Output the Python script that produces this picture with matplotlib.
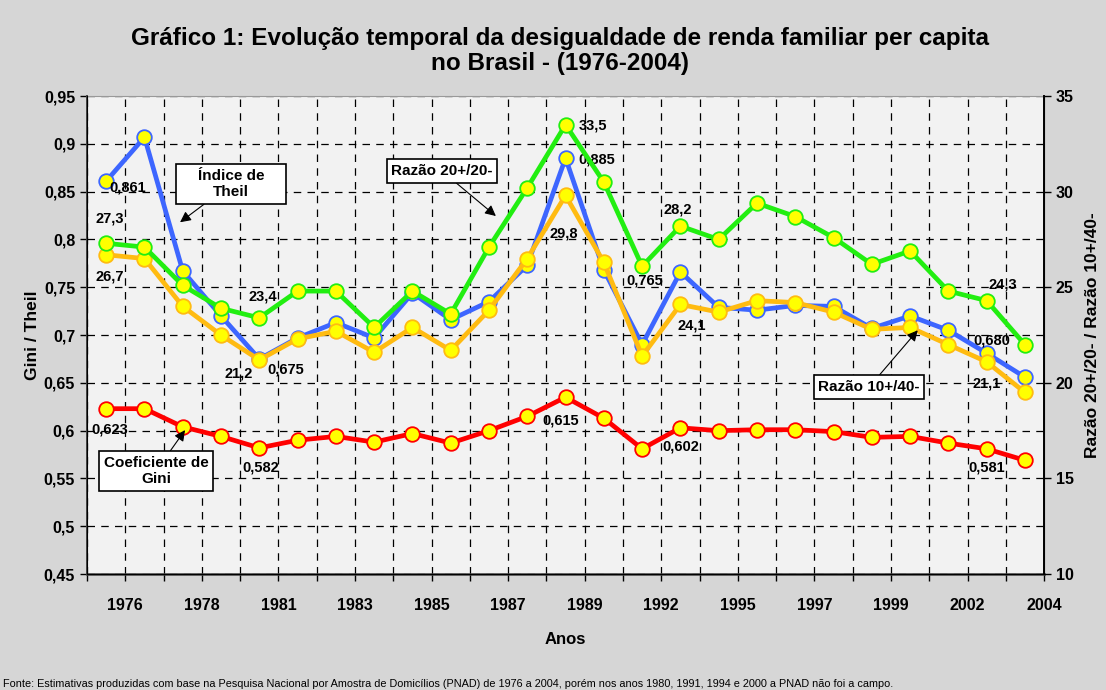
import numpy as np
import matplotlib.pyplot as plt
from matplotlib.ticker import FuncFormatter, MultipleLocator

plt.rcParams['font.family'] = ['Liberation Sans', 'DejaVu Sans']

# categories (years with PNAD survey)
anos = [1976, 1977, 1978, 1979, 1981, 1982, 1983, 1984, 1985, 1986, 1987, 1988,
        1989, 1990, 1992, 1993, 1995, 1996, 1997, 1998, 1999, 2001, 2002, 2003, 2004]

# left axis series
gini = [0.623, 0.623, 0.604, 0.594, 0.582, 0.590, 0.594, 0.588, 0.597, 0.587,
        0.600, 0.615, 0.635, 0.613, 0.581, 0.603, 0.600, 0.601, 0.601, 0.599,
        0.593, 0.594, 0.587, 0.581, 0.569]
theil = [0.861, 0.907, 0.767, 0.720, 0.675, 0.697, 0.713, 0.697, 0.744, 0.716,
         0.735, 0.773, 0.885, 0.768, 0.690, 0.766, 0.729, 0.726, 0.731, 0.730,
         0.707, 0.720, 0.705, 0.681, 0.656]

# right axis series
razao_20_20 = [27.3, 27.1, 25.1, 23.9, 23.4, 24.8, 24.8, 22.9, 24.8, 23.6,
               27.1, 30.2, 33.5, 30.5, 26.1, 28.2, 27.5, 29.4, 28.7, 27.6,
               26.2, 26.9, 24.8, 24.3, 22.0]
razao_10_40 = [26.7, 26.5, 24.0, 22.5, 21.2, 22.3, 22.7, 21.6, 22.9, 21.7,
               23.8, 26.5, 29.8, 26.3, 21.4, 24.1, 23.7, 24.3, 24.2, 23.7,
               22.8, 22.9, 22.0, 21.1, 19.5]

fonte = ("Fonte: Estimativas produzidas com base na Pesquisa Nacional por Amostra de "
         "Domicílios (PNAD) de 1976 a 2004, porém nos anos 1980, 1991, 1994 e 2000 a "
         "PNAD não foi a campo.")

x = np.arange(len(anos)) + 0.5

fig = plt.figure(figsize=(11.06, 6.9), dpi=100)
fig.patch.set_facecolor('#d6d6d6')
ax = fig.add_axes([0.0787, 0.168, 0.8653, 0.6928])
ax.set_facecolor('#f2f2f2')
ax2 = ax.twinx()

def draw(a, vals, color, z):
    a.plot(x, vals, color=color, lw=3.4, marker='o', ms=10.5,
           mfc='#ffff00', mec=color, mew=1.3, zorder=z, clip_on=False)

draw(ax, gini, '#ff0000', 3)
draw(ax, theil, '#3d66ff', 3)
draw(ax2, razao_10_40, '#ffbb11', 3)
draw(ax2, razao_20_20, '#22ee11', 4)

ax.set_xlim(0, len(anos))
ax.set_ylim(0.45, 0.95)
ax2.set_ylim(10, 35)

ax.yaxis.set_major_locator(MultipleLocator(0.05))
ax.yaxis.set_major_formatter(FuncFormatter(
    lambda v, p: (f"{v:.2f}".rstrip('0').rstrip('.')).replace('.', ',')))
ax2.yaxis.set_major_locator(MultipleLocator(5))

# x: gridlines at every category boundary, labels every other boundary
ax.set_xticks(np.arange(0, len(anos) + 1))
ax.set_xticklabels([''] + [str(a) if i % 2 == 0 else '' for i, a in enumerate(anos)])

ax.grid(True, color='black', ls=(0, (6, 5)), lw=0.9)
ax.set_axisbelow(True)

for a in (ax, ax2):
    a.tick_params(labelsize=11.5, width=1, length=5, direction='out')
    for lab in a.get_yticklabels() + a.get_xticklabels():
        lab.set_fontweight('bold')
ax.tick_params(axis='x', pad=12)
ax.spines['left'].set_color('#444444')
ax.spines['bottom'].set_color('#444444')
ax.spines['bottom'].set_linewidth(1.8)
ax.spines['left'].set_linewidth(1.4)
ax.spines['top'].set_color('#999999')
ax2.spines['right'].set_linewidth(1.4)
ax2.spines['top'].set_visible(False)

ax.set_ylabel('Gini / Theil', fontsize=12.5, fontweight='bold', labelpad=3)
ax2.set_ylabel('Razão 20+/20- / Razão 10+/40-', fontsize=12.5, fontweight='bold',
               labelpad=8)
ax.set_xlabel('Anos', fontsize=12, fontweight='bold', labelpad=14)

fig.text(0.506, 0.926, 'Gráfico 1: Evolução temporal da desigualdade de renda familiar per capita\n'
         'no Brasil - (1976-2004)', ha='center', va='center', fontsize=17.5,
         fontweight='bold', linespacing=1.12)
fig.text(0.003, 0.002, fonte, fontsize=7.8, ha='left', va='bottom')

# data labels: (series axis, values, index, text, offset in pixels)
labels = [
    (ax, theil, 0, '0,861', (22, -6)),
    (ax2, razao_20_20, 0, '27,3', (4, 25)),
    (ax2, razao_10_40, 0, '26,7', (4, -22)),
    (ax2, razao_20_20, 4, '23,4', (4, 21)),
    (ax2, razao_10_40, 4, '21,2', (-21, -14)),
    (ax, theil, 4, '0,675', (26, -11)),
    (ax, gini, 0, '0,623', (4, -21)),
    (ax, gini, 4, '0,582', (1, -20)),
    (ax2, razao_20_20, 12, '33,5', (27, -1)),
    (ax, theil, 12, '0,885', (31, -1)),
    (ax2, razao_10_40, 12, '29,8', (-2, -38)),
    (ax2, razao_20_20, 15, '28,2', (-3, 17)),
    (ax, theil, 13, '0,765', (41, -10)),
    (ax2, razao_10_40, 15, '24,1', (11, -21)),
    (ax, gini, 11, '0,615', (33, -4)),
    (ax, gini, 15, '0,602', (0, -19)),
    (ax2, razao_20_20, 23, '24,3', (16, 16)),
    (ax, theil, 23, '0,680', (5, 13)),
    (ax2, razao_10_40, 23, '21,1', (0, -22)),
    (ax, gini, 23, '0,581', (0, -19)),
]
for a, vals, i, txt, off in labels:
    a.annotate(txt, xy=(x[i], vals[i]), xytext=off, textcoords='offset pixels',
               ha='center', va='center', fontsize=10.5, fontweight='bold', zorder=6)

# callouts (positions in left-axis data coordinates)
box = dict(boxstyle='square,pad=0.3', fc='white', ec='black', lw=1.2)
arrow = dict(arrowstyle='-|>', color='black', lw=0.8, mutation_scale=16, shrinkA=0, shrinkB=0)
callouts = [
    ('    Índice de    \nTheil', (2.43, 0.818), (3.76, 0.858)),
    ('Razão 20+/20-', (10.68, 0.8245), (9.27, 0.8716)),
    ('Coeficiente de\nGini', (2.56, 0.6006), (1.80, 0.5577)),
    ('Razão 10+/40-', (21.7, 0.705), (20.43, 0.6456)),
]
for txt, head, pos in callouts:
    ax2.annotate(txt, xy=head, xycoords=ax.transData, xytext=pos, textcoords=ax.transData,
                 ha='center', va='center', fontsize=11, fontweight='bold',
                 bbox=box, arrowprops=arrow, zorder=7)

fig.savefig('out.png', dpi=100, facecolor=fig.get_facecolor())
